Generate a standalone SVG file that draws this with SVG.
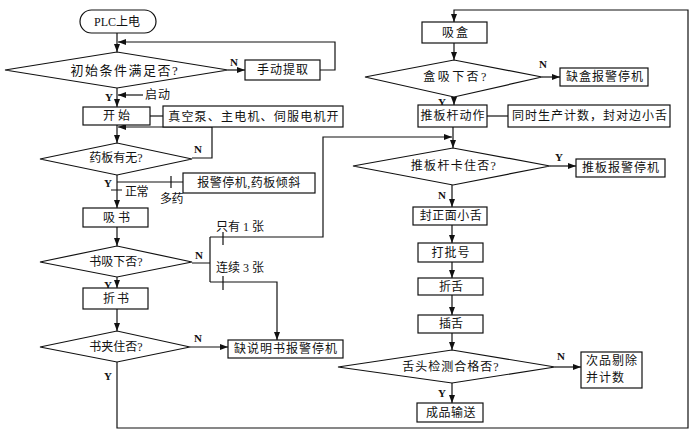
<svg xmlns="http://www.w3.org/2000/svg" width="695" height="433" viewBox="0 0 695 433">
<defs>
<marker id="ah" markerWidth="8" markerHeight="6" refX="8" refY="3" orient="auto" markerUnits="userSpaceOnUse">
<path d="M0,0 L8,3 L0,6 Z" fill="#111"/>
</marker>
</defs>
<style>
.b{fill:#fff;stroke:#111;stroke-width:1.2}
.c{fill:none;stroke:#111;stroke-width:1.2}
.a{marker-end:url(#ah)}
text{font-family:"Liberation Serif","Noto Sans CJK SC",serif;font-size:12px;fill:#111;dominant-baseline:central}
.m{text-anchor:middle}
.l{font-weight:bold;font-size:11px}
</style>
<rect width="695" height="433" fill="#fff"/>
<g id="connectors">
<path class="c a" d="M117,33 V52"/>
<path class="c a" d="M320,70 H335 V42 H118"/>
<path class="c a" d="M228,70 H245"/>
<path class="c a" d="M117,88 V107"/>
<path class="c a" d="M143,95 H118"/>
<path class="c" d="M150,116 H163"/>
<path class="c a" d="M117,125 V143"/>
<path class="c a" d="M192,158 H212 V127 H118"/>
<path class="c a" d="M117,175 V208"/>
<path class="c" d="M117,182 H183"/>
<path class="c" d="M171,176 V188 M111,190 H122"/>
<path class="c a" d="M117,227 V246"/>
<path class="c a" d="M117,277 V288"/>
<path class="c" d="M192,263 H210 M210,237 V282"/>
<path class="c a" d="M210,237 H323 V137 H452"/>
<path class="c a" d="M210,282 H277 V340"/>
<path class="c" d="M223,232 V245 M223,276 V290"/>
<path class="c a" d="M117,309 V331"/>
<path class="c a" d="M190,347 H228"/>
<path class="c a" d="M117,362 V428 H688 V10 H454 V22"/>
<path class="c a" d="M454,43 V60"/>
<path class="c a" d="M542,77 H560"/>
<path class="c a" d="M454,97 V105"/>
<path class="c" d="M487,116 H508"/>
<path class="c a" d="M453,127 V148"/>
<path class="c a" d="M550,166 H576"/>
<path class="c a" d="M452,185 V207"/>
<path class="c a" d="M452,225 V243"/>
<path class="c a" d="M452,262 V278"/>
<path class="c a" d="M452,295 V315"/>
<path class="c a" d="M452,333 V350"/>
<path class="c a" d="M555,367 H581"/>
<path class="c a" d="M452,383 V403"/>
</g>
<g id="labels">
<text class="l" x="105" y="97">Y</text>
<text class="l" x="230" y="62">N</text>
<text x="145" y="95" style="letter-spacing:1px">启动</text>
<text class="l" x="194" y="149">N</text>
<text class="l" x="104" y="183">Y</text>
<text x="125" y="192" style="letter-spacing:-0.5px">正常</text>
<text x="160" y="199" style="letter-spacing:-0.5px">多药</text>
<text x="216" y="227">只有 1 张</text>
<text class="l" x="195" y="255">N</text>
<text x="216" y="268">连续 3 张</text>
<text class="l" x="104" y="285">Y</text>
<text class="l" x="194" y="338">N</text>
<text class="l" x="104" y="376">Y</text>
<text class="l" x="539" y="64">N</text>
<text class="l" x="438" y="102">Y</text>
<text class="l" x="555" y="157">Y</text>
<text class="l" x="438" y="195">N</text>
<text class="l" x="557" y="356">N</text>
<text class="l" x="438" y="393">Y</text>
</g>
<g id="n_plc"><rect class="b" x="80" y="10" width="76" height="23" rx="11.5"/><text class="m" x="117" y="21.5">PLC上电</text></g>
<g id="n_init"><polygon class="b" points="5,70 117,52 228,70 117,88"/><text class="m" x="125" y="70" style="letter-spacing:1.5px;font-size:13px">初始条件满足否?</text></g>
<g id="n_manual"><rect class="b" x="245" y="60" width="75" height="20"/><text class="m" x="283" y="70" style="letter-spacing:1px">手动提取</text></g>
<g id="n_start"><rect class="b" x="83" y="107" width="67" height="18"/><text class="m" x="118" y="116" style="letter-spacing:3px">开始</text></g>
<g id="n_pump"><rect class="b" x="163" y="106" width="180" height="21"/><text class="m" x="254" y="116.5" style="letter-spacing:1.2px">真空泵、主电机、伺服电机开</text></g>
<g id="n_board"><polygon class="b" points="40,159 117,143 192,159 117,175"/><text class="m" x="116" y="158">药板有无?</text></g>
<g id="n_alarm1"><rect class="b" x="183" y="173" width="132" height="20"/><text class="m" x="249" y="183" style="letter-spacing:0.5px">报警停机,药板倾斜</text></g>
<g id="n_suckbook"><rect class="b" x="83" y="208" width="65" height="19"/><text class="m" x="118" y="217.5" style="letter-spacing:3px">吸书</text></g>
<g id="n_bookdown"><polygon class="b" points="40,262 117,246 192,262 117,277"/><text class="m" x="116" y="262">书吸下否?</text></g>
<g id="n_fold"><rect class="b" x="83" y="288" width="65" height="21"/><text class="m" x="117" y="298.5" style="letter-spacing:2px">折书</text></g>
<g id="n_clamp"><polygon class="b" points="40,347 117,331 190,347 117,362"/><text class="m" x="116" y="347">书夹住否?</text></g>
<g id="n_alarm2"><rect class="b" x="228" y="340" width="115" height="18"/><text class="m" x="286" y="349" style="letter-spacing:1px">缺说明书报警停机</text></g>
<g id="n_suckbox"><rect class="b" x="422" y="22" width="65" height="21"/><text class="m" x="456" y="32.5" style="letter-spacing:2px">吸盒</text></g>
<g id="n_boxdown"><polygon class="b" points="365,77 454,60 542,77 454,97"/><text class="m" x="456" y="77" style="letter-spacing:2.4px">盒吸下否?</text></g>
<g id="n_alarm3"><rect class="b" x="560" y="68" width="88" height="18"/><text class="m" x="605" y="77" style="letter-spacing:1px">缺盒报警停机</text></g>
<g id="n_push"><rect class="b" x="418" y="105" width="69" height="22"/><text class="m" x="453" y="116" style="letter-spacing:1px">推板杆动作</text></g>
<g id="n_count"><rect class="b" x="508" y="105" width="162" height="22"/><text class="m" x="590" y="116" style="letter-spacing:1px">同时生产计数，封对边小舌</text></g>
<g id="n_stuck"><polygon class="b" points="353,166 453,148 550,166 453,185"/><text class="m" x="454" y="166" style="letter-spacing:1.3px">推板杆卡住否?</text></g>
<g id="n_alarm4"><rect class="b" x="576" y="159" width="89" height="18"/><text class="m" x="621" y="168" style="letter-spacing:1px">推板报警停机</text></g>
<g id="n_seal"><rect class="b" x="413" y="207" width="74" height="18"/><text class="m" x="451" y="216" style="letter-spacing:0.5px">封正面小舌</text></g>
<g id="n_batch"><rect class="b" x="418" y="243" width="65" height="19"/><text class="m" x="451" y="252.5" style="letter-spacing:1px">打批号</text></g>
<g id="n_foldtongue"><rect class="b" x="418" y="278" width="65" height="17"/><text class="m" x="451" y="286.5" style="letter-spacing:0px">折舌</text></g>
<g id="n_insert"><rect class="b" x="418" y="315" width="65" height="18"/><text class="m" x="451" y="324" style="letter-spacing:0px">插舌</text></g>
<g id="n_check"><polygon class="b" points="338,367 452,350 555,367 452,383"/><text class="m" x="451" y="367" style="letter-spacing:1px">舌头检测合格否?</text></g>
<g id="n_reject"><rect class="b" x="581" y="352" width="61" height="36"/><text x="586" y="361" style="letter-spacing:1px">次品剔除</text><text x="586" y="378" style="letter-spacing:1px">并计数</text></g>
<g id="n_output"><rect class="b" x="417" y="403" width="66" height="19"/><text class="m" x="451" y="412.5" style="letter-spacing:0.5px">成品输送</text></g>
</svg>
